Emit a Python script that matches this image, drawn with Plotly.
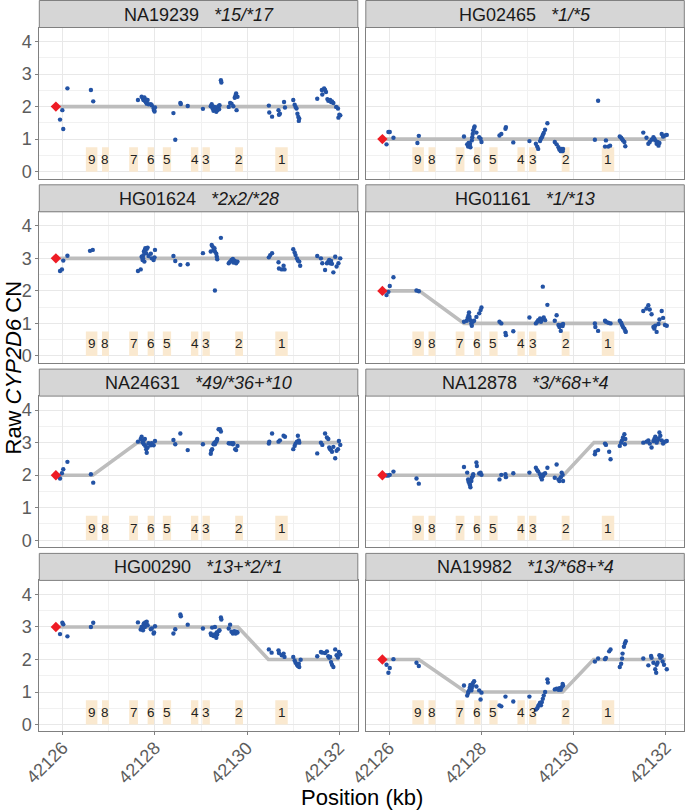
import plotly.graph_objects as go

# ---------------- data ----------------
SAMPLES = ["NA19239", "HG02465", "HG01624", "HG01161",
           "NA24631", "NA12878", "HG00290", "NA19982"]
GENOTYPES = ["*15/*17", "*1/*5", "*2x2/*28", "*1/*13",
             "*49/*36+*10", "*3/*68+*4", "*13+*2/*1", "*13/*68+*4"]

EXON_LABELS = ["9", "8", "7", "6", "5", "4", "3", "2", "1"]
EXON_START = [42126.50, 42126.85, 42127.44, 42127.84, 42128.17,
              42128.78, 42129.03, 42129.74, 42130.61]
EXON_END = [42126.75, 42127.00, 42127.63, 42127.98, 42128.35,
            42128.94, 42129.19, 42129.91, 42130.88]
EXON_TOP = 0.75

X_TICKS = [42126, 42128, 42130, 42132]
X_TICK_LABELS = ["42126", "42128", "42130", "42132"]
X_MINOR = [42127, 42129, 42131]
Y_TICKS = [0, 1, 2, 3, 4]
Y_TICK_LABELS = ["0", "1", "2", "3", "4"]
Y_MINOR = [0.5, 1.5, 2.5, 3.5]

DIAMOND_X = 42125.85
DIAMOND_Y = [2, 1, 3, 2, 2, 2, 3, 2]

PROFILE_X = [
    [42125.93, 42132.0],
    [42125.93, 42132.0],
    [42125.93, 42132.0],
    [42125.93, 42126.65, 42127.62, 42132.0],
    [42125.93, 42126.65, 42127.62, 42132.0],
    [42125.93, 42129.78, 42130.44, 42132.0],
    [42125.93, 42129.80, 42130.46, 42132.0],
    [42125.93, 42126.64, 42127.66, 42129.76, 42130.43, 42132.0],
]
PROFILE_Y = [
    [2, 2],
    [1, 1],
    [3, 3],
    [2, 2, 1, 1],
    [2, 2, 3, 3],
    [2, 2, 3, 3],
    [3, 3, 2, 2],
    [2, 2, 1, 1, 2, 2],
]

NA19239_PTS = [(42125.94,1.60),(42125.99,1.89),(42126.01,1.31),(42126.10,2.56),(42126.61,2.51),(42126.66,2.16),(42127.63,2.20),(42127.71,2.30),(42127.74,2.25),(42127.75,2.20),(42127.76,2.23),(42127.79,2.16),(42127.80,2.14),(42127.82,2.09),(42127.84,2.20),(42127.86,2.07),(42127.77,2.28),(42127.81,2.21),(42127.91,2.07),(42127.93,2.04),(42127.97,1.94),(42127.98,1.89),(42128.00,1.97),(42127.99,1.85),(42128.40,1.80),(42128.44,0.98),(42128.55,2.11),(42128.56,2.08),(42128.71,2.02),(42129.04,1.93),(42129.21,2.01),(42129.23,2.07),(42129.25,1.94),(42129.27,1.87),(42129.29,1.99),(42129.30,1.91),(42129.33,1.84),(42129.34,1.97),(42129.35,1.89),(42129.38,2.01),(42129.39,1.92),(42129.40,2.04),(42129.43,2.81),(42129.44,2.74),(42129.60,1.99),(42129.63,2.11),(42129.66,2.09),(42129.70,2.01),(42129.73,2.27),(42129.75,2.35),(42129.76,2.40),(42129.77,1.89),(42129.79,2.30),(42130.47,2.03),(42130.48,1.82),(42130.54,1.69),(42130.68,1.89),(42130.69,1.75),(42130.71,1.78),(42130.80,2.14),(42130.82,1.97),(42131.00,2.20),(42131.03,2.06),(42131.05,1.99),(42131.07,1.94),(42131.09,1.78),(42131.11,1.68),(42131.12,1.56),(42131.13,1.63),(42131.52,2.24),(42131.62,2.51),(42131.63,2.37),(42131.67,2.56),(42131.69,2.51),(42131.71,2.45),(42131.74,2.23),(42131.76,2.18),(42131.80,2.20),(42131.82,2.14),(42131.84,2.16),(42131.87,2.11),(42131.93,1.99),(42131.97,1.94),(42131.98,1.66),(42132.00,1.75),(42132.02,1.73)]

HG02465_PTS = [(42125.94,0.84),(42125.98,1.22),(42126.01,1.22),(42126.09,1.04),(42126.61,0.88),(42126.64,1.10),(42127.62,1.08),(42127.69,0.84),(42127.71,0.77),(42127.74,0.80),(42127.75,0.86),(42127.72,0.88),(42127.76,0.75),(42127.79,0.96),(42127.80,1.06),(42127.81,1.16),(42127.82,1.27),(42127.84,1.34),(42127.85,1.39),(42127.89,1.20),(42127.95,1.06),(42127.98,1.01),(42128.00,0.91),(42128.39,1.11),(42128.43,1.16),(42128.52,1.32),(42128.53,1.37),(42128.69,0.90),(42129.04,0.94),(42129.18,0.86),(42129.21,0.77),(42129.23,0.70),(42129.27,0.94),(42129.29,1.01),(42129.31,1.06),(42129.33,1.13),(42129.35,1.19),(42129.38,1.29),(42129.43,1.49),(42129.59,0.91),(42129.63,0.84),(42129.67,0.75),(42129.69,0.68),(42129.72,0.63),(42129.74,0.70),(42129.76,0.63),(42129.77,0.70),(42130.46,0.98),(42130.53,2.18),(42130.68,0.77),(42130.70,0.96),(42130.75,0.77),(42130.79,0.80),(42131.00,1.08),(42131.03,1.04),(42131.05,1.00),(42131.07,0.96),(42131.10,0.91),(42131.12,0.78),(42131.51,1.20),(42131.58,1.04),(42131.62,0.86),(42131.65,0.91),(42131.69,0.98),(42131.73,1.06),(42131.75,1.01),(42131.77,0.96),(42131.80,0.86),(42131.82,0.91),(42131.84,0.80),(42131.86,0.88),(42131.91,1.16),(42131.94,1.08),(42131.98,1.11),(42132.02,1.13)]

HG01624_PTS = [(42125.94,2.61),(42125.98,2.66),(42126.01,2.93),(42126.10,3.08),(42126.59,3.23),(42126.65,3.26),(42127.63,2.61),(42127.69,2.66),(42127.71,3.05),(42127.73,2.95),(42127.75,3.10),(42127.76,3.21),(42127.78,3.26),(42127.79,3.31),(42127.81,3.16),(42127.82,3.29),(42127.84,3.33),(42127.74,3.00),(42127.77,2.90),(42127.86,3.07),(42127.91,3.14),(42127.93,3.00),(42127.97,2.95),(42128.00,3.26),(42127.99,3.03),(42128.40,3.07),(42128.44,2.92),(42128.55,2.80),(42128.71,2.82),(42129.04,3.16),(42129.21,3.21),(42129.23,3.41),(42129.25,3.36),(42129.27,3.26),(42129.29,3.31),(42129.30,3.21),(42129.33,3.14),(42129.34,3.05),(42129.35,2.97),(42129.30,2.01),(42129.43,3.63),(42129.60,2.85),(42129.63,2.90),(42129.66,2.95),(42129.69,2.98),(42129.70,2.87),(42129.73,2.93),(42129.76,2.85),(42129.79,2.90),(42130.47,3.03),(42130.50,3.10),(42130.54,3.16),(42130.68,2.88),(42130.69,2.69),(42130.75,2.66),(42130.79,2.77),(42130.81,2.66),(42131.00,3.28),(42131.03,3.18),(42131.05,3.10),(42131.08,3.00),(42131.10,2.93),(42131.13,2.90),(42131.15,2.77),(42131.52,3.07),(42131.60,3.00),(42131.63,2.85),(42131.69,2.64),(42131.73,2.85),(42131.76,2.90),(42131.78,2.95),(42131.80,2.85),(42131.82,2.92),(42131.84,2.83),(42131.87,2.57),(42131.91,3.05),(42131.94,2.75),(42131.98,2.85),(42132.02,3.00)]

HG01161_PTS = [(42125.94,1.87),(42125.98,1.97),(42126.01,2.15),(42126.09,2.42),(42126.59,2.01),(42126.64,1.99),(42127.62,1.05),(42127.68,1.08),(42127.70,1.17),(42127.72,1.25),(42127.73,1.34),(42127.74,1.20),(42127.76,1.10),(42127.78,1.00),(42127.79,0.93),(42127.81,1.05),(42127.84,1.08),(42127.89,1.20),(42127.95,1.31),(42127.98,1.41),(42128.00,1.49),(42128.39,1.05),(42128.43,1.00),(42128.52,0.71),(42128.53,0.64),(42128.69,0.76),(42129.04,1.18),(42129.18,1.00),(42129.21,1.05),(42129.23,1.10),(42129.27,1.15),(42129.29,1.05),(42129.31,1.13),(42129.33,2.13),(42129.35,1.18),(42129.38,1.10),(42129.43,1.57),(42129.59,1.08),(42129.63,1.25),(42129.67,0.95),(42129.69,0.89),(42129.72,0.77),(42129.74,0.95),(42129.76,0.92),(42129.77,0.98),(42130.46,1.00),(42130.47,0.89),(42130.53,0.77),(42130.68,1.08),(42130.70,1.05),(42130.75,1.02),(42130.80,1.00),(42131.00,1.08),(42131.03,1.02),(42131.05,0.95),(42131.07,0.89),(42131.10,0.84),(42131.12,0.77),(42131.13,0.74),(42131.51,1.38),(42131.58,1.46),(42131.62,1.56),(42131.65,1.43),(42131.69,1.28),(42131.73,0.89),(42131.75,0.84),(42131.77,0.93),(42131.80,0.74),(42131.84,0.98),(42131.86,1.12),(42131.91,1.38),(42131.94,1.17),(42131.98,0.95),(42132.02,0.93)]

NA24631_PTS = [(42125.94,1.90),(42125.98,2.06),(42126.01,2.18),(42126.10,2.41),(42126.61,2.03),(42126.66,1.77),(42127.63,3.03),(42127.69,3.11),(42127.71,3.18),(42127.73,3.01),(42127.75,3.06),(42127.76,2.95),(42127.78,3.11),(42127.79,2.90),(42127.81,2.80),(42127.82,2.69),(42127.84,2.85),(42127.86,2.98),(42127.91,2.92),(42127.93,2.98),(42127.97,2.92),(42128.00,3.05),(42128.40,3.08),(42128.44,2.95),(42128.55,3.28),(42128.71,2.77),(42129.04,2.95),(42129.21,2.66),(42129.22,2.75),(42129.24,2.80),(42129.27,2.95),(42129.29,3.00),(42129.30,2.95),(42129.33,3.03),(42129.34,3.07),(42129.35,3.11),(42129.38,3.41),(42129.41,3.41),(42129.43,3.34),(42129.60,2.98),(42129.63,2.97),(42129.66,2.98),(42129.69,2.95),(42129.70,2.98),(42129.74,2.80),(42129.76,2.77),(42129.79,2.90),(42130.47,2.97),(42130.48,3.03),(42130.54,3.28),(42130.68,3.03),(42130.71,3.07),(42130.79,3.21),(42130.82,3.18),(42131.00,2.80),(42131.03,2.90),(42131.05,2.97),(42131.08,3.03),(42131.10,3.21),(42131.12,3.07),(42131.13,3.00),(42131.52,2.67),(42131.60,3.00),(42131.63,2.93),(42131.69,3.28),(42131.73,3.16),(42131.76,3.11),(42131.78,2.85),(42131.80,2.80),(42131.82,2.77),(42131.84,2.72),(42131.87,2.87),(42131.91,2.52),(42131.94,2.75),(42131.97,2.80),(42131.99,3.05),(42132.02,2.93)]

NA12878_PTS = [(42125.94,1.99),(42125.98,1.99),(42126.01,2.01),(42126.09,2.11),(42126.59,1.90),(42126.64,1.74),(42127.62,2.25),(42127.69,2.08),(42127.71,1.87),(42127.72,1.80),(42127.74,1.74),(42127.75,1.70),(42127.76,1.63),(42127.78,1.82),(42127.79,1.92),(42127.81,1.97),(42127.82,2.03),(42127.89,2.39),(42127.90,2.28),(42127.95,2.05),(42127.98,2.08),(42128.00,2.01),(42128.39,1.87),(42128.43,2.01),(42128.52,2.03),(42128.53,1.94),(42128.69,2.06),(42129.04,2.08),(42129.18,2.23),(42129.21,2.15),(42129.23,2.11),(42129.27,2.03),(42129.29,1.94),(42129.31,1.87),(42129.33,1.97),(42129.35,2.03),(42129.38,2.06),(42129.43,2.23),(42129.59,1.92),(42129.63,2.33),(42129.67,1.87),(42129.69,1.82),(42129.72,1.94),(42129.74,2.08),(42129.76,2.01),(42129.77,1.82),(42130.46,2.64),(42130.47,2.72),(42130.53,2.77),(42130.68,2.97),(42130.70,2.93),(42130.77,2.72),(42130.80,2.49),(42131.00,2.90),(42131.03,3.00),(42131.05,3.07),(42131.07,3.16),(42131.10,3.26),(42131.12,3.11),(42131.11,2.95),(42131.51,3.00),(42131.58,3.03),(42131.62,3.07),(42131.65,2.97),(42131.69,2.85),(42131.73,3.05),(42131.75,3.11),(42131.77,3.18),(42131.80,3.00),(42131.82,3.07),(42131.84,3.13),(42131.86,3.31),(42131.88,3.21),(42131.91,3.07),(42131.94,2.97),(42131.98,3.03),(42132.02,3.05)]

HG00290_PTS = [(42125.94,2.78),(42125.99,3.13),(42126.01,3.08),(42126.10,2.71),(42126.61,3.00),(42126.66,3.13),(42127.63,3.14),(42127.69,2.92),(42127.71,3.00),(42127.73,2.95),(42127.75,3.05),(42127.76,3.11),(42127.78,3.00),(42127.79,3.14),(42127.81,3.07),(42127.82,3.16),(42127.84,3.05),(42127.74,2.90),(42127.91,2.93),(42127.93,2.95),(42127.97,2.80),(42127.98,2.83),(42128.00,3.02),(42128.40,2.80),(42128.44,2.93),(42128.55,3.38),(42128.56,3.33),(42128.71,3.07),(42129.04,2.95),(42129.21,2.80),(42129.22,2.75),(42129.24,2.98),(42129.27,2.72),(42129.29,2.77),(42129.30,3.00),(42129.33,2.67),(42129.34,2.83),(42129.35,2.77),(42129.38,2.87),(42129.40,2.90),(42129.43,3.29),(42129.44,3.23),(42129.60,2.95),(42129.63,3.07),(42129.66,2.85),(42129.69,2.80),(42129.72,2.87),(42129.75,2.80),(42129.77,2.85),(42129.79,2.83),(42130.47,2.31),(42130.53,2.21),(42130.68,2.28),(42130.69,2.20),(42130.75,2.13),(42130.79,2.18),(42130.81,2.08),(42131.00,2.08),(42131.03,1.97),(42131.05,1.90),(42131.08,1.84),(42131.10,1.80),(42131.12,1.87),(42131.13,1.77),(42131.16,1.99),(42131.52,2.10),(42131.60,2.23),(42131.63,2.21),(42131.69,2.20),(42131.73,2.25),(42131.76,2.10),(42131.78,2.05),(42131.80,2.08),(42131.82,1.92),(42131.84,1.84),(42131.87,1.77),(42131.91,2.31),(42131.94,2.13),(42131.97,2.06),(42131.99,2.23),(42132.02,2.15)]

NA19982_PTS = [(42125.94,1.84),(42125.98,1.59),(42126.01,1.74),(42126.09,2.01),(42126.59,1.90),(42126.64,1.80),(42127.62,1.20),(42127.69,0.89),(42127.71,0.97),(42127.72,1.02),(42127.74,1.07),(42127.75,1.15),(42127.76,1.22),(42127.78,1.05),(42127.79,1.12),(42127.81,1.20),(42127.82,1.29),(42127.84,1.33),(42127.89,1.17),(42127.95,1.05),(42127.98,0.77),(42128.00,0.98),(42128.39,0.59),(42128.43,0.56),(42128.52,0.86),(42128.69,0.71),(42129.04,0.86),(42129.18,0.46),(42129.21,0.50),(42129.23,0.57),(42129.25,0.61),(42129.27,0.67),(42129.29,0.59),(42129.31,0.69),(42129.33,0.79),(42129.35,0.89),(42129.38,1.00),(42129.43,1.39),(42129.44,1.29),(42129.59,1.08),(42129.63,1.10),(42129.67,1.07),(42129.69,1.12),(42129.72,1.07),(42129.74,1.15),(42129.76,1.25),(42129.77,1.20),(42130.46,1.94),(42130.53,2.03),(42130.68,2.01),(42130.70,2.05),(42130.77,2.25),(42130.80,2.31),(42131.00,1.77),(42131.03,1.87),(42131.05,2.03),(42131.06,2.18),(42131.09,2.39),(42131.11,2.49),(42131.13,2.56),(42131.51,2.03),(42131.62,1.82),(42131.68,2.11),(42131.69,2.05),(42131.73,1.90),(42131.77,1.70),(42131.79,1.59),(42131.80,1.84),(42131.82,1.90),(42131.86,2.13),(42131.88,2.05),(42131.91,2.11),(42131.93,1.94),(42131.96,1.84),(42132.02,1.70)]

POINTS = [NA19239_PTS, HG02465_PTS, HG01624_PTS, HG01161_PTS,
          NA24631_PTS, NA12878_PTS, HG00290_PTS, NA19982_PTS]

# ---------------- layout / style ----------------
W, H = 685, 810
FONT = "Liberation Sans, Arial, sans-serif"
COL_L = [39.3, 365.8]
COL_R = [357.8, 684.3]
PANEL_TOP0 = 27.5
ROW_STEP = 184.3
PANEL_H = 151.0
STRIP_H = 27.0
X_RANGE = [42125.49, 42132.40]
Y_RANGE = [-0.21, 4.43]

BORDER = "#808080"
GRID = "#E8E8E8"
GRID_MINOR = "#F1F1F1"
TICKTXT = "#5c5c5c"
PT_COLOR = "#2353A5"
LINE_COLOR = "#BDBDBD"
EXON_FILL = "#FAE9D0"
TICK_FONT = 18


def px_x(p):
    return p / W


def px_y(p):
    return 1 - p / H


fig = go.Figure()
shapes = []
annotations = []

for i, sample in enumerate(SAMPLES):
    r, c = divmod(i, 2)
    n = i + 1
    xs = "x" if n == 1 else f"x{n}"
    ys = "y" if n == 1 else f"y{n}"
    xkey = "xaxis" if n == 1 else f"xaxis{n}"
    ykey = "yaxis" if n == 1 else f"yaxis{n}"

    top = PANEL_TOP0 + r * ROW_STEP
    bot = top + PANEL_H
    left, right = COL_L[c], COL_R[c]

    bottom_row = r == 3
    left_col = c == 0

    fig.update_layout({
        xkey: dict(
            domain=[px_x(left), px_x(right)], anchor=ys, range=X_RANGE,
            automargin=False,
            tickmode="array", tickvals=X_TICKS, ticktext=X_TICK_LABELS,
            showticklabels=False, ticks="outside" if bottom_row else "",
            ticklen=3, tickcolor=BORDER,
            showgrid=True, gridcolor=GRID, gridwidth=1.1,
            minor=dict(tickmode="array", tickvals=X_MINOR, showgrid=True,
                       gridcolor=GRID_MINOR, gridwidth=0.7, ticks=""),
            showline=True, mirror=True, linecolor=BORDER, linewidth=1,
            zeroline=False, fixedrange=True,
        ),
        ykey: dict(
            domain=[px_y(bot), px_y(top)], anchor=xs, range=Y_RANGE,
            automargin=False,
            tickmode="array", tickvals=Y_TICKS, ticktext=Y_TICK_LABELS,
            showticklabels=left_col, ticks="outside" if left_col else "",
            ticklen=3, tickcolor=BORDER,
            tickfont=dict(family=FONT, size=TICK_FONT, color=TICKTXT),
            showgrid=True, gridcolor=GRID, gridwidth=1.1,
            minor=dict(tickmode="array", tickvals=Y_MINOR, showgrid=True,
                       gridcolor=GRID_MINOR, gridwidth=0.7, ticks=""),
            showline=True, mirror=True, linecolor=BORDER, linewidth=1,
            zeroline=False, fixedrange=True,
        ),
    })

    # rotated x tick labels on the bottom row
    if bottom_row:
        for tv, tl in zip(X_TICKS, X_TICK_LABELS):
            annotations.append(dict(
                xref=xs, yref="paper", x=tv, y=px_y(bot + 5),
                text=tl, showarrow=False, textangle=-45,
                xanchor="right", yanchor="top", xshift=10,
                borderpad=0,
                font=dict(family=FONT, size=TICK_FONT, color=TICKTXT)))

    # exon boxes
    for lab, x0, x1 in zip(EXON_LABELS, EXON_START, EXON_END):
        shapes.append(dict(type="rect", xref=xs, yref=ys, x0=x0, x1=x1,
                           y0=0, y1=EXON_TOP, fillcolor=EXON_FILL,
                           line=dict(width=0), layer="between"))
        annotations.append(dict(xref=xs, yref=ys, x=(x0 + x1) / 2,
                                y=EXON_TOP / 2, text=lab, showarrow=False,
                                font=dict(family=FONT, size=13.5, color="#222222"),
                                xanchor="center", yanchor="middle"))

    # CN profile line
    fig.add_trace(go.Scatter(x=PROFILE_X[i], y=PROFILE_Y[i], mode="lines",
                             line=dict(color=LINE_COLOR, width=3.6),
                             xaxis=xs, yaxis=ys, hoverinfo="skip"))
    # raw points
    pts = POINTS[i]
    fig.add_trace(go.Scatter(x=[p[0] for p in pts], y=[p[1] for p in pts],
                             mode="markers",
                             marker=dict(color=PT_COLOR, size=4.4,
                                         line=dict(width=0)),
                             xaxis=xs, yaxis=ys))
    # red diamond
    fig.add_trace(go.Scatter(x=[DIAMOND_X], y=[DIAMOND_Y[i]], mode="markers",
                             marker=dict(color="#EE1C25", size=8,
                                         symbol="diamond", line=dict(width=0)),
                             xaxis=xs, yaxis=ys))

    # strip
    s_top = top - STRIP_H
    shapes.append(dict(type="rect", xref="paper", yref="paper",
                       x0=px_x(left), x1=px_x(right),
                       y0=px_y(top), y1=px_y(s_top),
                       fillcolor="#D6D6D6", line=dict(color=BORDER, width=1),
                       layer="above"))
    annotations.append(dict(
        xref="paper", yref="paper", x=px_x((left + right) / 2),
        y=px_y(s_top + STRIP_H / 2 + 0.5),
        text=f"{sample}\u00a0\u00a0\u00a0<i>{GENOTYPES[i]}</i>",
        showarrow=False, xanchor="center", yanchor="middle",
        font=dict(family=FONT, size=18, color="#1a1a1a")))

# global axis titles
annotations.append(dict(xref="paper", yref="paper", x=px_x(361.6),
                        y=px_y(797), text="Position (kb)", showarrow=False,
                        xanchor="center", yanchor="middle",
                        font=dict(family=FONT, size=22, color="#000000")))
annotations.append(dict(xref="paper", yref="paper", x=px_x(12.5),
                        y=px_y(368), text="Raw <i>CYP2D6</i> CN",
                        showarrow=False, textangle=-90,
                        xanchor="center", yanchor="middle",
                        font=dict(family=FONT, size=22, color="#000000")))

fig.update_layout(
    template="none",
    width=W, height=H,
    margin=dict(l=0, r=0, t=0, b=0, pad=0),
    paper_bgcolor="white", plot_bgcolor="white",
    showlegend=False,
    shapes=shapes, annotations=annotations,
    font=dict(family=FONT),
)

fig.write_html("out.html",
               config={"displayModeBar": False},
               post_script="document.body.style.margin='0';"
                           "document.body.style.overflow='hidden';")
